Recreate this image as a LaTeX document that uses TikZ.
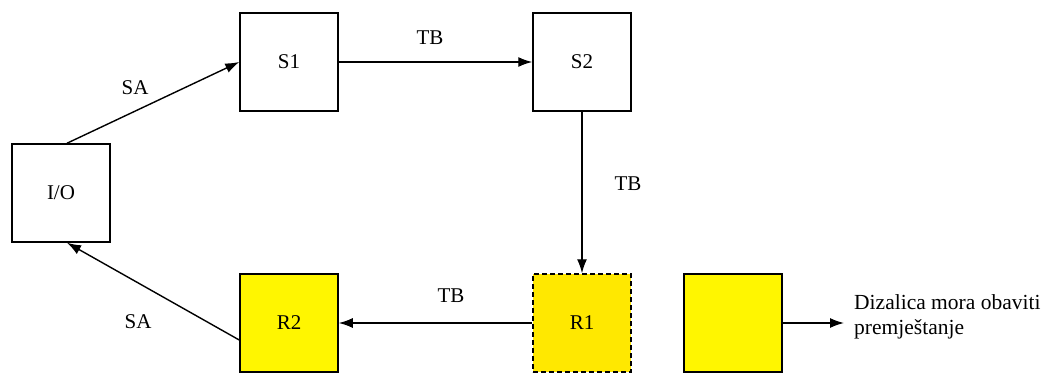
\documentclass[tikz,border=0pt]{standalone}
\usepackage{fontspec}
\setmainfont{Liberation Serif}
\usetikzlibrary{arrows.meta}
\definecolor{yelA}{RGB}{255,246,0}
\definecolor{yelB}{RGB}{255,232,0}
\begin{document}
\begin{tikzpicture}[x=1pt,y=-1pt,
  box/.style={draw=black, line width=1.5pt, minimum width=98pt, minimum height=98pt, inner sep=0pt, font=\fontsize{21}{25}\selectfont},
  lbl/.style={font=\fontsize{21}{25}\selectfont, inner sep=0pt},
  conn/.style={line width=1.4pt, -{Latex[length=14pt,width=10pt]}}]
\useasboundingbox (0,0) rectangle (1046,374);
\fill[white] (0,0) rectangle (1046,374);

\node[box] (IO) at (61,193) {I/O};
\node[box] (S1) at (289,62) {S1};
\node[box] (S2) at (582,62) {S2};
\node[box, fill=yelA] (R2) at (289,323) {R2};
\node[box, fill=yelB, dashed, dash pattern=on 5pt off 3pt] (R1) at (582,323) {R1};
\node[box, fill=yelA] (Y) at (733,323) {};
\coordinate (E) at (844,323);

\draw[conn] ([xshift=6pt]IO.north) -- (S1.west);
\draw[conn] (S1.east) -- (S2.west);
\draw[conn] (S2.south) -- (R1.north);
\draw[conn] (R1.west) -- (R2.east);
\draw[conn] ([yshift=-17pt]R2.west) -- ([xshift=6pt]IO.south);
\draw[conn] (Y.east) -- (E);

\node[lbl] (l1) at (135,88) {SA};
\node[lbl] (l2) at (430,38) {TB};
\node[lbl] (l3) at (628,184) {TB};
\node[lbl] (l4) at (451,296) {TB};
\node[lbl] (l5) at (138,322) {SA};
\node[lbl, anchor=west, align=left, font=\fontsize{21.5}{25}\selectfont] (t) at (854,317) {Dizalica mora obaviti\\premještanje};
\end{tikzpicture}
\end{document}
